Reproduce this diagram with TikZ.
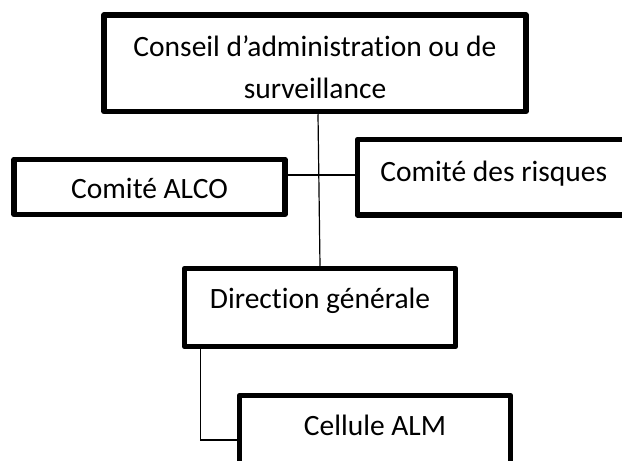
\documentclass[tikz,border=0pt]{standalone}
\usepackage{fontspec}
\setmainfont[Ligatures={NoCommon}]{Carlito}
\begin{document}
\begin{tikzpicture}[x=1pt,y=-1pt,
  orgbox/.style={draw=black, line width=5.5pt, line join=round, fill=white,
    inner sep=0pt, font=\fontsize{29.5}{42}\selectfont},
  link/.style={draw=black, line width=1.2pt}]
\useasboundingbox (0,0) rectangle (622,461);
\clip (0,0) rectangle (622,461);

% boxes
\node[orgbox, minimum width=422pt, minimum height=96.5pt,
  text width=416pt, align=flush center, text height=22pt, text depth=36.5pt]
  (board) at (315,63.25) {Conseil d’administration ou de\\surveillance};
\node[orgbox, minimum width=271pt, minimum height=55pt,
  text height=22pt, text depth=0pt]
  (alco) at (149.5,187) {Comité ALCO};
\node[orgbox, minimum width=272.5pt, minimum height=75.5pt,
  text height=20pt, text depth=12.5pt]
  (risk) at (493.75,177.25) {Comité des risques};
\node[orgbox, minimum width=271pt, minimum height=78pt,
  text height=20pt, text depth=19pt]
  (dg) at (320,307.5) {Direction générale};
\node[orgbox, minimum width=271pt, minimum height=79pt,
  text height=20pt, text depth=20pt]
  (alm) at (375,435) {Cellule ALM};

% connectors
\coordinate (hbar) at (0,175);
\coordinate (elbow) at (200.5,440);
\draw[link] ([xshift=3pt]board.south) -- (dg.north);
\draw[link] (alco.east |- hbar) -- (risk.west |- hbar);
\draw[link] (dg.south -| elbow) -- (elbow) -- (alm.west |- elbow);
\end{tikzpicture}
\end{document}
